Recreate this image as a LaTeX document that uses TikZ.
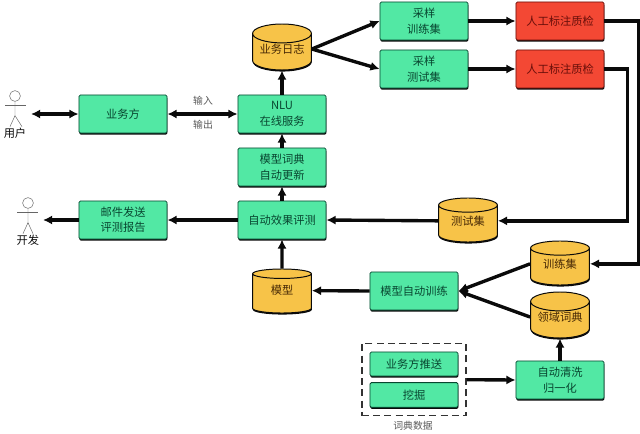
\documentclass[tikz,border=0pt]{standalone}
\usepackage{fontspec}
\setmainfont{Noto Sans CJK SC}
\usepackage{xcolor}
\definecolor{boxgreen}{RGB}{82,232,164}
\definecolor{boxtext}{RGB}{8,70,48}
\definecolor{cylyellow}{RGB}{247,195,72}
\definecolor{cyltext}{RGB}{70,40,5}
\definecolor{boxred}{RGB}{243,72,52}
\definecolor{redtext}{RGB}{105,15,10}
\definecolor{dark}{RGB}{10,10,10}
\usetikzlibrary{shapes.geometric, arrows.meta, fit, shadows}
\tikzset{
    hardshadow/.style={drop shadow={shadow xshift=0.25pt, shadow yshift=-1.1pt, fill=dark, opacity=1}},
    procbox/.style={draw=boxtext, line width=0.6pt, fill=boxgreen, rounded corners=1pt, minimum width=2.2cm, minimum height=0.95cm,
        align=center, font=\fontsize{8}{11}\selectfont, text=boxtext, inner sep=0pt, hardshadow},
    smallbox/.style={procbox, minimum height=0.6cm},
    checkbox/.style={procbox, fill=boxred, text=redtext, draw=redtext},
    store/.style={cylinder, shape border rotate=90, aspect=0.42, draw=dark, line width=0.7pt, fill=cylyellow, anchor=shape center,
        minimum width=1.47cm, minimum height=1.1cm, inner sep=0pt, text height=7pt, text depth=5.2pt,
        font=\fontsize{8}{11}\selectfont, text=cyltext, hardshadow},
    flow/.style={draw=dark, line width=2.4pt, -{Latex[length=6.5pt,width=6.5pt]}},
    biflow/.style={flow, {Latex[length=6.5pt,width=6.5pt]}-{Latex[length=6.5pt,width=6.5pt]}},
    actor/.style={draw=black!60, line width=0.35pt},
    note/.style={font=\fontsize{7}{9}\selectfont, text=black!65},
    actorname/.style={font=\fontsize{8}{10}\selectfont, text=dark}
}
\begin{document}
\begin{tikzpicture}[x=0.025cm, y=-0.025cm]
        \useasboundingbox (0,0) rectangle (640,434);

        % Dictionary data
        \node[smallbox] (push) at (414,364) {业务方推送};
        \node[smallbox, minimum height=0.62cm] (mine) at (414,395) {挖掘};
        \node[draw=black!80, line width=0.8pt, dash pattern=on 5pt off 3pt, inner xsep=0.19cm, inner ysep=0.2cm, fit=(push)(mine)] (dictdata) {};
        \node[note] (dictlabel) at (413,426) {词典数据};

        % Processing boxes
        \node[procbox] (owner) at (123,114) {业务方};
        \node[procbox] (nlu) at (282,114) {NLU\\在线服务};
        \node[procbox] (update) at (282,167) {模型词典\\自动更新};
        \node[procbox] (eval) at (282,220) {自动效果评测};
        \node[procbox] (mail) at (123,220) {邮件发送\\评测报告};
        \node[procbox] (sampletrain) at (424,21) {采样\\训练集};
        \node[procbox] (sampletest) at (424,69) {采样\\测试集};
        \node[procbox] (train) at (414,291) {模型自动训练};
        \node[procbox] (clean) at (560,380) {自动清洗\\归一化};

        % Quality checks
        \node[checkbox] (checktrain) at (560,21) {人工标注质检};
        \node[checkbox] (checktest) at (560,69) {人工标注质检};

        % Data stores
        \node[store] (log) at (282,47) {业务日志};
        \node[store] (testset) at (468,220) {测试集};
        \node[store] (trainset) at (560,263) {训练集};
        \node[store] (lexicon) at (560,315) {领域词典};
        \node[store] (model) at (282,291) {模型};

        % Actors
        \node[circle, actor, minimum size=0.27cm, inner sep=0pt] (userhead) at (15,96) {};
        \draw[actor] (userhead.south) -- ++(0,14) coordinate (userhip) -- ++(-5,11);
        \draw[actor] (userhip) -- ++(7,11);
        \draw[actor] (5,105) -- (26,105);
        \node[actorname] (username) at (15,133) {用户};
        \coordinate (userport) at (31,114);

        \node[circle, actor, minimum size=0.27cm, inner sep=0pt] (devhead) at (28,203) {};
        \draw[actor] (devhead.south) -- ++(0,14) coordinate (devhip) -- ++(-5,11);
        \draw[actor] (devhip) -- ++(5,11);
        \draw[actor] (17,212) -- (38,212);
        \node[actorname] (devname) at (28,240) {开发};
        \coordinate (devport) at (43,220);

        % Labels
        \node[note] (inlabel) at (203,101) {输入};
        \node[note] (outlabel) at (203,125) {输出};

        % Connectors
        \draw[biflow] (userport) -- (owner.west);
        \draw[biflow] (owner.east) -- (nlu.west);
        \draw[flow] (nlu.north) -- (log.south);
        \draw[flow] (update.north) -- (nlu.south);
        \draw[flow] (eval.north) -- (update.south);
        \draw[flow] (model.north) -- (eval.south);
        \draw[flow] ([yshift=2.1pt]testset.west) -- (eval.east);
        \draw[flow] (eval.west) -- (mail.east);
        \draw[flow] (mail.west) -- (devport);
        \draw[flow] ([yshift=2.1pt]log.east) -- (sampletrain.west);
        \draw[flow] ([yshift=2.1pt]log.east) -- (sampletest.west);
        \draw[flow] (sampletrain.east) -- (checktrain.west);
        \draw[flow] (sampletest.east) -- (checktest.west);
        \draw[flow] (checktrain.east) -- ++(34,0) |- ([yshift=2.1pt]trainset.east);
        \draw[flow] (checktest.east) -- ++(23,0) |- ([yshift=2.1pt]testset.east);
        \draw[flow] ([yshift=2.1pt]trainset.west) -- (train.east);
        \draw[flow] ([yshift=2.1pt]lexicon.west) -- (train.east);
        \draw[flow] (train.west) -- ([yshift=2.1pt]model.east);
        \draw[flow] (clean.north) -- (lexicon.south);
        \draw[flow] (dictdata.east) -- (clean.west);
    \end{tikzpicture}
\end{document}
